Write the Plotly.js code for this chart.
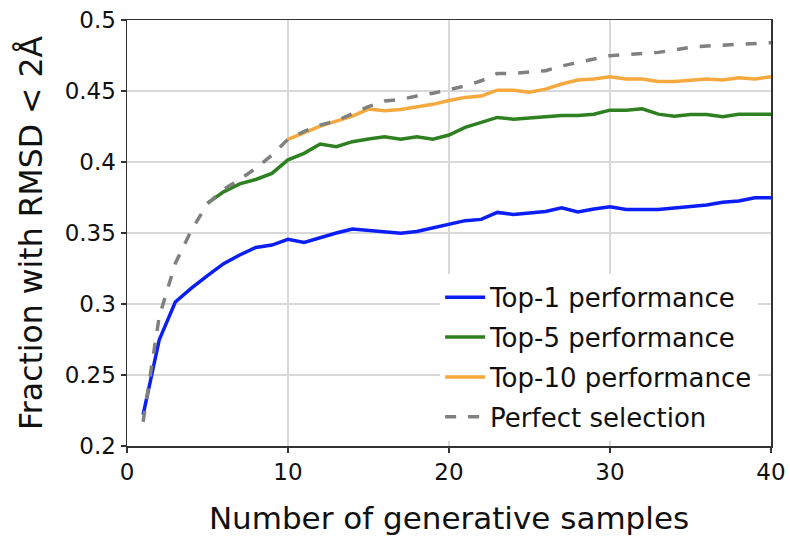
<!DOCTYPE html>
<html>
<head>
<meta charset="utf-8">
<script src="https://cdn.plot.ly/plotly-3.0.1.min.js"></script>
<style>html,body{margin:0;padding:0;background:#fff;}#chart{width:790px;height:537px;}</style>
</head>
<body>
<div id="chart"></div>
<script>
const samplesTop1 = [1,2,3,4,5,6,7,8,9,10,11,12,13,14,15,16,17,18,19,20,21,22,23,24,25,26,27,28,29,30,31,32,33,34,35,36,37,38,39,40];
const top1 = [0.222,0.2747,0.3014,0.3112,0.3200,0.3284,0.3345,0.3398,0.3415,0.3455,0.3434,0.3470,0.3500,0.3528,0.3516,0.3507,0.3498,0.3510,0.3537,0.3562,0.3587,0.3596,0.3645,0.3631,0.3640,0.3652,0.3678,0.3648,0.3669,0.3685,0.3666,0.3666,0.3666,0.3676,0.3685,0.3697,0.3716,0.3725,0.3748,0.3748];

const samplesTop5 = [5,6,7,8,9,10,11,12,13,14,15,16,17,18,19,20,21,22,23,24,25,26,27,28,29,30,31,32,33,34,35,36,37,38,39,40];
const top5 = [0.3710,0.3790,0.3846,0.3877,0.3920,0.4015,0.4061,0.4127,0.4108,0.4143,0.4162,0.4178,0.4160,0.4178,0.4160,0.4190,0.4244,0.4277,0.4314,0.4302,0.4309,0.4318,0.4328,0.4328,0.4337,0.4365,0.4365,0.4375,0.4337,0.4323,0.4335,0.4335,0.4318,0.4337,0.4337,0.4337];

const samplesTop10 = [10,11,12,13,14,15,16,17,18,19,20,21,22,23,24,25,26,27,28,29,30,31,32,33,34,35,36,37,38,39,40];
const top10 = [0.4160,0.4206,0.4253,0.4288,0.4323,0.4373,0.4361,0.4370,0.4389,0.4406,0.4433,0.4455,0.4464,0.4506,0.4506,0.4492,0.4513,0.4549,0.4577,0.4584,0.4600,0.4584,0.4584,0.4567,0.4567,0.4577,0.4584,0.4577,0.4593,0.4584,0.4600];

const samplesPerfect = [1,2,3,4,5,6,7,8,9,10,11,12,13,14,15,16,17,18,19,20,21,22,23,24,25,26,27,28,29,30,31,32,33,34,35,36,37,38,39,40];
const perfect = [0.217,0.2910,0.3286,0.3520,0.3705,0.3807,0.3877,0.3955,0.4049,0.4160,0.4215,0.4260,0.4290,0.4340,0.4390,0.4430,0.4440,0.4465,0.4484,0.4510,0.4535,0.4572,0.4624,0.4624,0.4631,0.4643,0.4676,0.4702,0.4725,0.4749,0.4756,0.4763,0.4772,0.4789,0.4808,0.4817,0.4824,0.4831,0.4836,0.4840];

const names = ['Top-1 performance','Top-5 performance','Top-10 performance','Perfect selection'];
const xTicks = [0,10,20,30,40];
const yTicks = [0.2,0.25,0.3,0.35,0.4,0.45,0.5];
const yTickText = ['0.2','0.25','0.3','0.35','0.4','0.45','0.5'];

const FONT = 'DejaVu Sans, sans-serif';

const traces = [
  {x: samplesTop1, y: top1, name: names[0], legendgroup:'a', mode:'lines', line:{color:'#0a1ef5', width:3.5}},
  {x: samplesTop5, y: top5, name: names[1], legendgroup:'b', mode:'lines', line:{color:'#2f8020', width:3.5}},
  {x: samplesTop10, y: top10, name: names[2], legendgroup:'c', mode:'lines', line:{color:'#f5a93e', width:3.5}},
  {x: samplesPerfect, y: perfect, name: names[3], legendgroup:'d', mode:'lines', line:{color:'#808080', width:3.5, dash:'11px,12px'}}
];

const layout = {
  width: 790, height: 537,
  margin: {l:127, r:19, t:20, b:91},
  paper_bgcolor:'#fff', plot_bgcolor:'#fff',
  font: {family: FONT, color:'#111'},
  showlegend: true,
  legend: {
    x: 0.98, xanchor:'right', y: 0.012, yanchor:'bottom',
    bgcolor:'rgba(255,255,255,1)', borderwidth:0,
    font:{family:FONT, size:26, color:'#111'},
    traceorder:'grouped', tracegroupgap: 3, itemwidth: 40
  },
  xaxis: {
    range:[0,40], tickvals:xTicks, ticktext:xTicks.map(String),
    showgrid:true, gridcolor:'#d9d9d9', gridwidth:1.2,
    showline:true, linecolor:'#333', linewidth:1.5, mirror:true,
    ticks:'outside', ticklen:5, tickcolor:'#333', tickwidth:1.2,
    tickfont:{family:FONT, size:23, color:'#111'},
    zeroline:false,
    title:{text:'Number of generative samples', font:{family:FONT, size:31, color:'#111'}, standoff:23}
  },
  yaxis: {
    range:[0.2,0.5], tickvals:yTicks, ticktext:yTickText,
    showgrid:true, gridcolor:'#d9d9d9', gridwidth:1.2,
    showline:true, linecolor:'#333', linewidth:1.5, mirror:true,
    ticks:'outside', ticklen:5, tickcolor:'#333', tickwidth:1.2,
    tickfont:{family:FONT, size:23, color:'#111'},
    zeroline:false,
    title:{text:'Fraction with RMSD < 2Å', font:{family:FONT, size:31.5, color:'#111'}, standoff:12}
  }
};

Plotly.newPlot('chart', traces, layout, {displayModeBar:false, staticPlot:true});
</script>
</body>
</html>
